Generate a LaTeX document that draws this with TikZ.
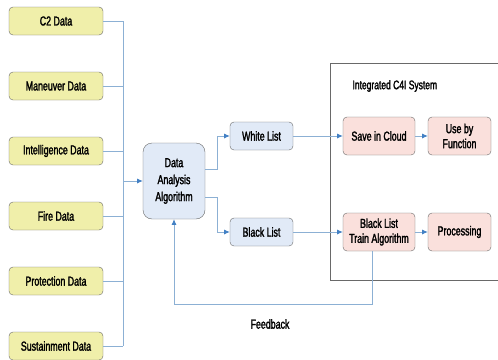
\documentclass[tikz,border=0pt]{standalone}
\usepackage{fontspec}
\setmainfont{Liberation Sans}
\newfontfamily\narrowsf[FakeStretch=0.68, FakeBold=1.8]{Liberation Sans}
\usetikzlibrary{positioning,arrows.meta}
\definecolor{srcyellow}{RGB}{240,239,170}
\definecolor{listblue}{RGB}{225,234,247}
\definecolor{syspink}{RGB}{250,224,220}
\definecolor{lineblue}{RGB}{140,176,212}
\definecolor{tipblue}{RGB}{66,128,196}
\definecolor{boxgray}{RGB}{105,105,105}
\tikzset{
  box/.style={draw=boxgray, rounded corners=4pt, align=center, font=\narrowsf\fontsize{13}{15}\selectfont},
  srcbox/.style={box, fill=srcyellow, minimum width=94pt, minimum height=28pt},
  listbox/.style={box, fill=listblue, minimum width=63pt, minimum height=28pt},
  sysbox/.style={box, fill=syspink, minimum height=38pt},
  flow/.style={draw=lineblue, line width=0.8pt},
  into/.style={flow, -{Latex[length=2mm, width=1.8mm, color=tipblue]}}
}
\begin{document}
\begin{tikzpicture}[x=1pt, y=-1pt]
    \useasboundingbox (0,0) rectangle (498,359);
    % sources and bus
    \foreach \y/\name/\id in {21/C2 Data/ctwo, 86/Maneuver Data/maneuver, 151/Intelligence Data/intel, 216/Fire Data/fire, 281/Protection Data/protect, 346/Sustainment Data/sustain}{
        \node[srcbox] (\id) at (56,\y) {\name};
        \draw[flow] (\id.east) -- (123,\y);
    }
    \coordinate (bustop) at (123,21);
    \coordinate (busbot) at (123,346);
    \coordinate (busin) at (123,181);
    \draw[flow] (bustop) -- (busbot);
    % analysis and lists
    \node[box, fill=listblue, rounded corners=9pt, minimum width=62pt, minimum height=76pt, font=\narrowsf\fontsize{13}{17}\selectfont] (dab) at (174,181) {Data\\Analysis\\Algorithm};
    \draw[into] (busin) -- (dab.west);
    \node[listbox] (white) at (261.5,136) {White List};
    \node[listbox] (black) at (261.5,232) {Black List};
    \draw[into] ([yshift=12pt]dab.east) -- ++(12,0) |- (white.west);
    \draw[into] ([yshift=-16pt]dab.east) -- ++(12,0) |- (black.west);
    % integrated system
    \draw[boxgray, line width=0.8pt] (505,280) -- (330,280) -- (330,63) -- (505,63);
    \node[anchor=west, font=\narrowsf\fontsize{12.5}{14}\selectfont] (sysname) at (349,86) {Integrated C4I System};
    \node[sysbox, minimum width=72pt] (cloud) at (379,136) {Save in Cloud};
    \node[sysbox, minimum width=63pt] (use) at (459.5,136) {Use by\\Function};
    \node[sysbox, minimum width=72pt] (train) at (379,232) {Black List\\Train Algorithm};
    \node[sysbox, minimum width=63pt] (proc) at (459.5,232) {Processing};
    \draw[into] (white) -- (cloud);
    \draw[into] (cloud) -- (use);
    \draw[into] (black) -- (train);
    \draw[into] (train) -- (proc);
    % feedback loop
    \draw[into] ([xshift=-7pt]train.south) -- ++(0,53) -| (dab.south);
    \node[font=\narrowsf\fontsize{13}{14}\selectfont] (fb) at (270,324) {Feedback};
\end{tikzpicture}
\end{document}
